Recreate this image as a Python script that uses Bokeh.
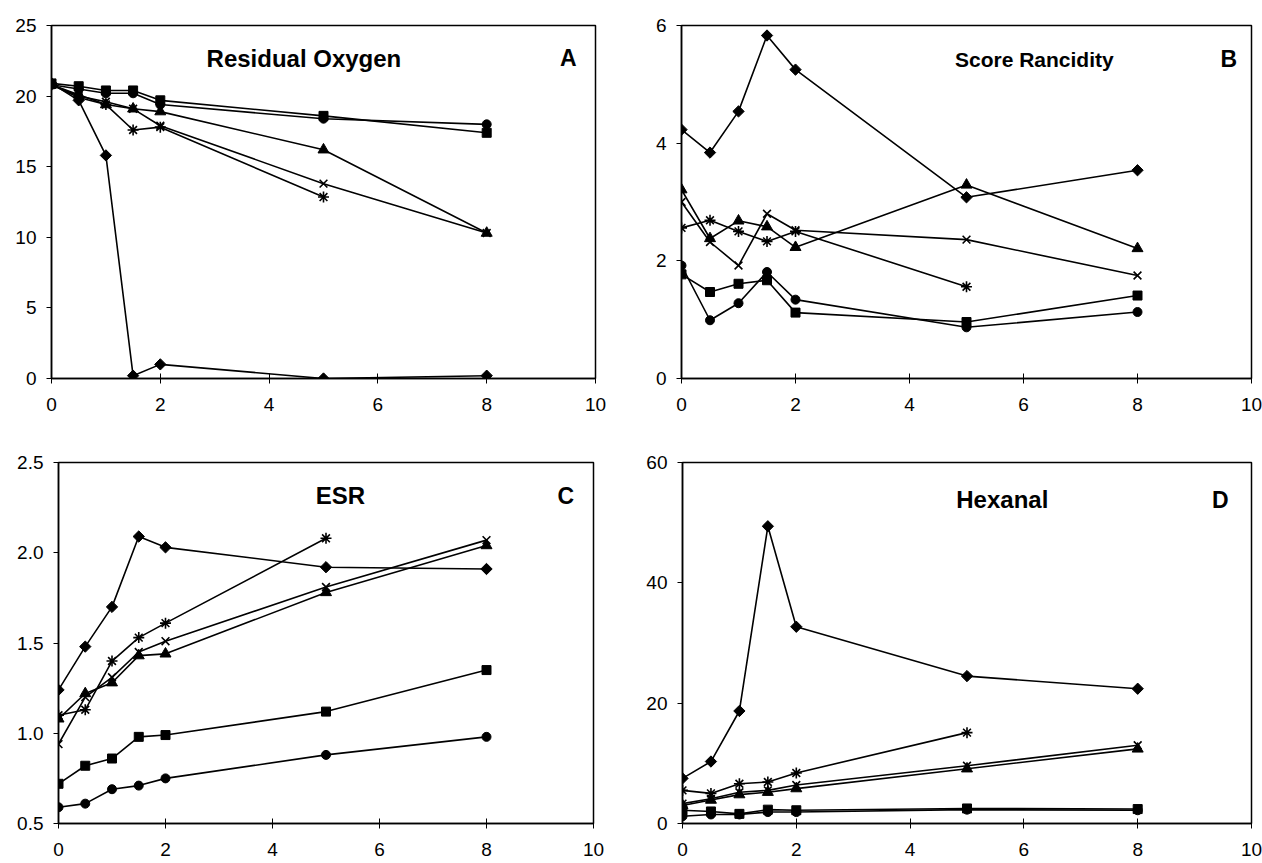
import math
from bokeh.plotting import figure
from bokeh.models import Range1d, FixedTicker, Label, NumeralTickFormatter
from bokeh.layouts import row, column
from bokeh.embed import file_html
from bokeh.resources import INLINE

# ---------------- data ----------------
t = [0, 0.5, 1, 1.5, 2, 5, 8]
t_ast = [0, 0.5, 1, 1.5, 2, 5]

# Panel A: Residual Oxygen
oxy_diamond = [20.9, 19.7, 15.8, 0.2, 1.0, 0.0, 0.2]
oxy_square = [20.9, 20.7, 20.4, 20.4, 19.7, 18.6, 17.4]
oxy_circle = [20.8, 20.5, 20.2, 20.2, 19.4, 18.4, 18.0]
oxy_triangle = [20.8, 20.1, 19.4, 19.1, 18.9, 16.2, 10.3]
oxy_x = [20.8, 20.0, 19.6, 19.1, 17.9, 13.8, 10.3]
oxy_asterisk = [20.8, 19.9, 19.4, 17.6, 17.8, 12.85]

# Panel B: Score Rancidity
ran_diamond = [4.23, 3.84, 4.54, 5.83, 5.25, 3.08, 3.54]
ran_square = [1.77, 1.47, 1.61, 1.67, 1.12, 0.96, 1.41]
ran_circle = [1.92, 0.99, 1.28, 1.81, 1.34, 0.87, 1.13]
ran_triangle = [3.21, 2.38, 2.68, 2.58, 2.23, 3.29, 2.21]
ran_x = [3.0, 2.32, 1.92, 2.80, 2.52, 2.36, 1.75]
ran_asterisk = [2.56, 2.69, 2.50, 2.33, 2.50, 1.56]

# Panel C: ESR
esr_diamond = [1.24, 1.48, 1.70, 2.09, 2.03, 1.92, 1.91]
esr_square = [0.72, 0.82, 0.86, 0.98, 0.99, 1.12, 1.35]
esr_circle = [0.59, 0.61, 0.69, 0.71, 0.75, 0.88, 0.98]
esr_triangle = [1.08, 1.22, 1.28, 1.43, 1.44, 1.78, 2.04]
esr_x = [0.94, 1.20, 1.31, 1.45, 1.51, 1.81, 2.07]
esr_asterisk = [1.10, 1.13, 1.40, 1.53, 1.61, 2.08]

# Panel D: Hexanal
hex_diamond = [7.5, 10.3, 18.7, 49.4, 32.7, 24.5, 22.4]
hex_square = [2.2, 2.0, 1.6, 2.3, 2.2, 2.5, 2.4]
hex_circle = [1.2, 1.5, 1.5, 1.9, 1.9, 2.3, 2.2]
hex_triangle = [3.0, 3.9, 4.8, 5.2, 5.8, 9.1, 12.4]
hex_x = [3.3, 4.1, 5.2, 5.5, 6.4, 9.6, 13.0]
hex_asterisk = [5.5, 5.0, 6.6, 6.9, 8.4, 15.1]

x_ticks = [0, 2, 4, 6, 8, 10]

FONT = "Liberation Sans"


def make_panel(series, y_range, y_ticks, y_fmt, width, height, borders,
               title, title_pos, title_size, letter, letter_pos):
    left, right, top, bottom = borders
    p = figure(width=width, height=height, output_backend="svg",
               toolbar_location=None, x_range=Range1d(0, 10),
               y_range=Range1d(*y_range),
               min_border_left=left, min_border_right=right,
               min_border_top=top, min_border_bottom=bottom)
    p.grid.visible = False
    p.outline_line_color = "black"
    p.outline_line_width = 1.5
    p.background_fill_color = "white"
    p.border_fill_color = "white"

    for ax in (p.xaxis[0], p.yaxis[0]):
        ax.axis_line_color = "black"
        ax.axis_line_width = 1.5
        ax.major_tick_line_color = "black"
        ax.major_tick_line_width = 1
        ax.minor_tick_line_color = None
        ax.major_label_text_font = FONT
        ax.major_label_text_font_size = "19px"
        ax.major_label_text_color = "black"

    p.xaxis.ticker = FixedTicker(ticks=x_ticks)
    p.xaxis.major_tick_in = 5
    p.xaxis.major_tick_out = 5
    p.xaxis.major_label_standoff = 14
    p.xaxis.formatter = NumeralTickFormatter(format="0")

    p.yaxis.ticker = FixedTicker(ticks=y_ticks)
    p.yaxis.major_tick_in = 0
    p.yaxis.major_tick_out = 5
    p.yaxis.major_label_standoff = 10
    p.yaxis.formatter = NumeralTickFormatter(format=y_fmt)

    for xs, ys, marker, size in series:
        p.line(xs, ys, line_color="black", line_width=1.6)
        if marker in ("x", "asterisk"):
            p.scatter(xs, ys, marker=marker, size=size, line_color="black",
                      line_width=1.6, fill_color=None)
        elif marker == "diamond":
            p.scatter(xs, ys, marker="square", angle=math.pi / 4, size=size,
                      line_color="black", fill_color="black", line_width=1)
        else:
            p.scatter(xs, ys, marker=marker, size=size, line_color="black",
                      fill_color="black", line_width=1)

    p.add_layout(Label(x=title_pos[0], y=title_pos[1], text=title,
                       text_font=FONT, text_font_size=title_size,
                       text_font_style="bold", text_align="center",
                       text_baseline="alphabetic", text_color="black"))
    p.add_layout(Label(x=letter_pos[0], y=letter_pos[1], text=letter,
                       text_font=FONT, text_font_size="23px",
                       text_font_style="bold", text_align="center",
                       text_baseline="alphabetic", text_color="black"))
    return p


def series_set(d, s, c, tr, x, a):
    return [
        (t, d, "diamond", 8),
        (t, s, "square", 9),
        (t, c, "circle", 9),
        (t, tr, "triangle", 11),
        (t, x, "x", 11),
        (t_ast, a, "asterisk", 11),
    ]


pA = make_panel(series_set(oxy_diamond, oxy_square, oxy_circle, oxy_triangle, oxy_x, oxy_asterisk),
                (0, 25), [0, 5, 10, 15, 20, 25], "0", 620, 440, (51, 25, 22, 62),
                "Residual Oxygen", (4.64, 22.68), "24px", "A", (9.5, 22.68))
pB = make_panel(series_set(ran_diamond, ran_square, ran_circle, ran_triangle, ran_x, ran_asterisk),
                (0, 6), [0, 2, 4, 6], "0", 642, 440, (61, 11, 25, 62),
                "Score Rancidity", (6.19, 5.43), "21px", "B", (9.6, 5.43))
pC = make_panel(series_set(esr_diamond, esr_square, esr_circle, esr_triangle, esr_x, esr_asterisk),
                (0.5, 2.5), [0.5, 1.0, 1.5, 2.0, 2.5], "0.0", 620, 423, (58, 27, 22, 40),
                "ESR", (5.27, 2.317), "24px", "C", (9.48, 2.317))
pD = make_panel(series_set(hex_diamond, hex_square, hex_circle, hex_triangle, hex_x, hex_asterisk),
                (0, 60), [0, 20, 40, 60], "0", 642, 423, (62, 11, 22, 40),
                "Hexanal", (5.62, 53.85), "24px", "D", (9.45, 53.85))

layout = column(row(pA, pB), row(pC, pD))

open("out.html", "w").write(file_html(layout, INLINE))
